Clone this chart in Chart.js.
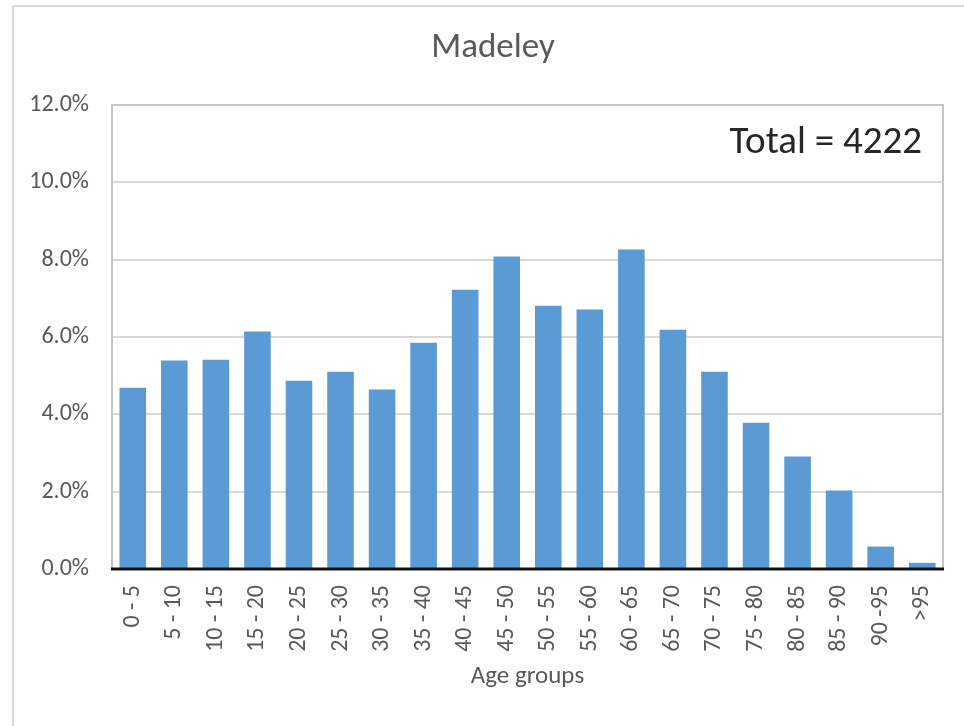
<!DOCTYPE html>
<html>
<head>
<meta charset="utf-8">
<title>Madeley</title>
<script src="https://cdn.jsdelivr.net/npm/chart.js@4/dist/chart.umd.min.js"></script>
<style>
  html, body { margin: 0; padding: 0; background: #fff; }
  canvas { display: block; }
</style>
</head>
<body>
<canvas id="ageChart" width="964" height="726"></canvas>
<script>
const chartTitle = 'Madeley';
const axisTitle = 'Age groups';
const totalCount = 4222;

const ageGroups = ['0 - 5', '5 - 10', '10 - 15', '15 - 20', '20 - 25', '25 - 30', '30 - 35',
  '35 - 40', '40 - 45', '45 - 50', '50 - 55', '55 - 60', '60 - 65', '65 - 70', '70 - 75',
  '75 - 80', '80 - 85', '85 - 90', '90 -95', '>95'];
// share of population, percent
const sharePct = [4.69, 5.39, 5.41, 6.14, 4.87, 5.10, 4.64, 5.85, 7.22, 8.08,
  6.81, 6.71, 8.26, 6.19, 5.10, 3.78, 2.91, 2.03, 0.58, 0.16];
const yMax = 12;
const yStep = 2;

const fontFamily = 'Carlito, Calibri, Lato, sans-serif';
const greyText = '#595959';

// outer chart border, title, plot frame, baseline and the "Total" note
const framePlugin = {
  id: 'frame',
  beforeDraw(chart) {
    const ctx = chart.ctx;
    ctx.save();
    ctx.fillStyle = '#fff';
    ctx.fillRect(0, 0, chart.width, chart.height);
    ctx.strokeStyle = '#d9d9d9';
    ctx.lineWidth = 2;
    ctx.strokeRect(13, 6, chart.width + 20, chart.height + 20);

    ctx.fillStyle = greyText;
    ctx.font = '35px ' + fontFamily;
    ctx.textAlign = 'center';
    ctx.textBaseline = 'alphabetic';
    ctx.fillText(chartTitle, 493, 57);
    ctx.restore();
  },
  afterDatasetsDraw(chart) {
    const { ctx, chartArea: a } = chart;
    ctx.save();
    ctx.strokeStyle = '#c6c6c6';
    ctx.lineWidth = 2;
    ctx.beginPath();
    ctx.moveTo(a.left, a.bottom);
    ctx.lineTo(a.left, a.top);
    ctx.lineTo(a.right, a.top);
    ctx.lineTo(a.right, a.bottom);
    ctx.stroke();
    ctx.strokeStyle = '#111';
    ctx.lineWidth = 3;
    ctx.beginPath();
    ctx.moveTo(a.left - 1, a.bottom);
    ctx.lineTo(a.right + 1, a.bottom);
    ctx.stroke();

    ctx.fillStyle = '#262626';
    ctx.font = '39px ' + fontFamily;
    ctx.textAlign = 'right';
    ctx.textBaseline = 'alphabetic';
    ctx.fillText('Total = ' + totalCount, a.right - 21, a.top + 48);
    ctx.restore();
  }
};

new Chart(document.getElementById('ageChart'), {
  type: 'bar',
  data: {
    labels: ageGroups,
    datasets: [{
      label: 'Share',
      data: sharePct,
      backgroundColor: '#5b9bd5',
      categoryPercentage: 1,
      barPercentage: 0.64
    }]
  },
  options: {
    responsive: false,
    animation: false,
    layout: { padding: { left: 0, right: 21, top: 105, bottom: 0 } },
    plugins: {
      legend: { display: false },
      tooltip: { enabled: false },
      title: { display: false }
    },
    scales: {
      x: {
        grid: { display: false, drawTicks: false },
        border: { display: false },
        ticks: {
          color: greyText,
          font: { family: fontFamily, size: 24 },
          minRotation: 90,
          maxRotation: 90,
          padding: 16,
          autoSkip: false
        },
        title: {
          display: true,
          text: axisTitle,
          color: greyText,
          font: { family: fontFamily, size: 25 },
          padding: { top: 0, bottom: 34 }
        },
        afterFit(scale) {
          scale.height = 157;
          scale.paddingLeft = 0;
          scale.paddingRight = 0;
        }
      },
      y: {
        min: 0,
        max: yMax,
        grid: { color: '#d9d9d9', lineWidth: 2, drawTicks: false },
        border: { display: false },
        ticks: {
          stepSize: yStep,
          color: greyText,
          font: { family: fontFamily, size: 24 },
          padding: 23,
          callback: v => v.toFixed(1) + '%'
        },
        afterFit(scale) { scale.width = 112; }
      }
    }
  },
  plugins: [framePlugin]
});
</script>
</body>
</html>
